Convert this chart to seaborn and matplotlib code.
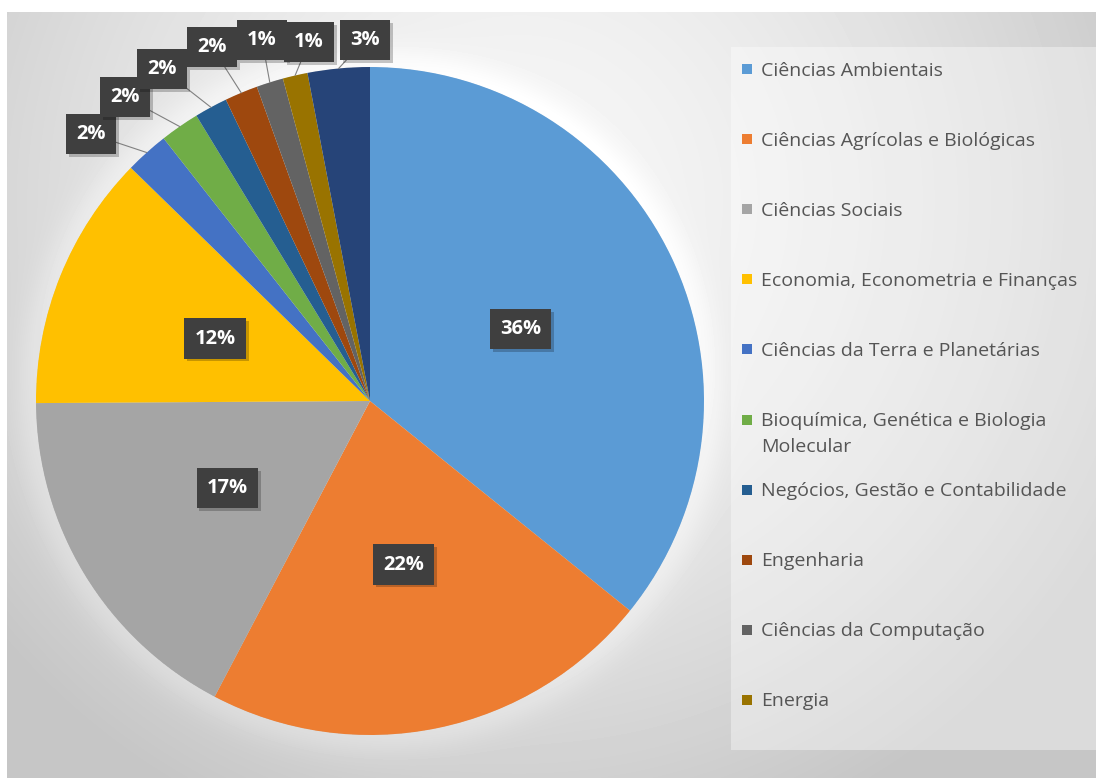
import numpy as np
import matplotlib
matplotlib.use("Agg")
import matplotlib.pyplot as plt
import matplotlib.patheffects as pe
from matplotlib.patches import Rectangle
import seaborn as sns

# Subject areas and their share of publications (%)
categories = [
    "Ciências Ambientais",
    "Ciências Agrícolas e Biológicas",
    "Ciências Sociais",
    "Economia, Econometria e Finanças",
    "Ciências da Terra e Planetárias",
    "Bioquímica, Genética e Biologia\nMolecular",
    "Negócios, Gestão e Contabilidade",
    "Engenharia",
    "Ciências da Computação",
    "Energia",
    "Outras áreas",
]
shares = [35.8, 21.9, 17.2, 12.4, 2.1, 1.9, 1.6, 1.6, 1.3, 1.2, 3.0]
colors = ["#5B9BD5", "#ED7D31", "#A5A5A5", "#FFC000", "#4472C4", "#70AD47",
          "#255E91", "#9E480E", "#636363", "#997300", "#264478"]
legend_count = 10

sns.set_theme(style="white")
plt.rcParams["font.family"] = ["Open Sans", "DejaVu Sans"]
palette = sns.color_palette(colors)

W, H = 1096, 780
fig = plt.figure(figsize=(W / 100, H / 100), dpi=100)
fig.patch.set_facecolor("white")
ax = fig.add_axes([0, 0, 1, 1])

# radial grey backdrop with a faint glow around the pie
gx = np.arange(7, W) + 0.5
gy = np.arange(12, 778) + 0.5
X, Y = np.meshgrid(gx, gy)
r = np.hypot((X - 520) / 680, (Y - 200) / 680)
bg = 0.965 - 0.19 * np.clip(r, 0, 1) ** 1.6
rp = np.hypot(X - 370, Y - 401)
bg = bg + 0.045 * np.exp(-((rp - 334) / 22) ** 2) * (rp > 334)
ax.imshow(bg, cmap="gray", vmin=0, vmax=1, extent=(7, W, H - 778, H - 12),
          origin="upper", interpolation="bilinear", zorder=0)

cx, cy, rad = 370, H - 401, 334
wedges, _ = ax.pie(shares, colors=palette, startangle=90, counterclock=False,
                   center=(cx, cy), radius=rad, wedgeprops=dict(linewidth=0))
for w in wedges:
    w.set_zorder(2)


def pct_text(v):
    return f"{round(v):.0f}%"


box = dict(boxstyle="square,pad=0.5", fc="#3f3f3f", ec="none")
shadow = [pe.withSimplePatchShadow(offset=(2, -2), shadow_rgbFace="black", alpha=0.22),
          pe.Normal()]


def style_box(t):
    t.get_bbox_patch().set_path_effects(shadow)


# labels inside the four large slices
for w, v in zip(wedges[:4], shares[:4]):
    mid = np.deg2rad((w.theta1 + w.theta2) / 2)
    t = ax.text(cx + 0.5 * rad * np.cos(mid), cy + 0.5 * rad * np.sin(mid), pct_text(v),
                ha="center", va="center", color="white", fontsize=14.5, fontweight="bold",
                bbox=box, zorder=5)
    style_box(t)

# labels outside the small slices, stepped along the rim
outer_pos = [(91, 134), (125, 97), (162, 69), (212, 47), (262, 40), (309, 42), (365, 40)]
for k, (w, v) in enumerate(zip(wedges[4:], shares[4:])):
    mid = np.deg2rad((w.theta1 + w.theta2) / 2)
    tip = (cx + rad * np.cos(mid), cy + rad * np.sin(mid))
    px, py = outer_pos[k]
    t = ax.annotate(pct_text(v), xy=tip, xytext=(px, H - py), ha="center", va="center",
                    color="white", fontsize=14.5, fontweight="bold", bbox=box, zorder=5,
                    arrowprops=dict(arrowstyle="-", color="#808080", lw=0.8,
                                    shrinkA=0, shrinkB=0))
    style_box(t)

# legend panel
ax.add_patch(Rectangle((731, H - 750), W - 731, 750 - 47, fc="white", alpha=0.38,
                       ec="none", zorder=3))
row_y = [69, 139, 209, 279, 349, 420, 490, 560, 630, 700]
for name, col, y in zip(categories[:legend_count], palette[:legend_count], row_y):
    ax.add_patch(Rectangle((742, H - y - 5), 10, 10, fc=col, ec="none", zorder=4))
    ax.text(761, H - y + 7.5, name, ha="left", va="top", fontsize=14, color="#555555",
            linespacing=1.55, zorder=4)

ax.set_xlim(0, W)
ax.set_ylim(0, H)
ax.set_aspect("equal")
ax.axis("off")
fig.savefig("out.png", dpi=100)
